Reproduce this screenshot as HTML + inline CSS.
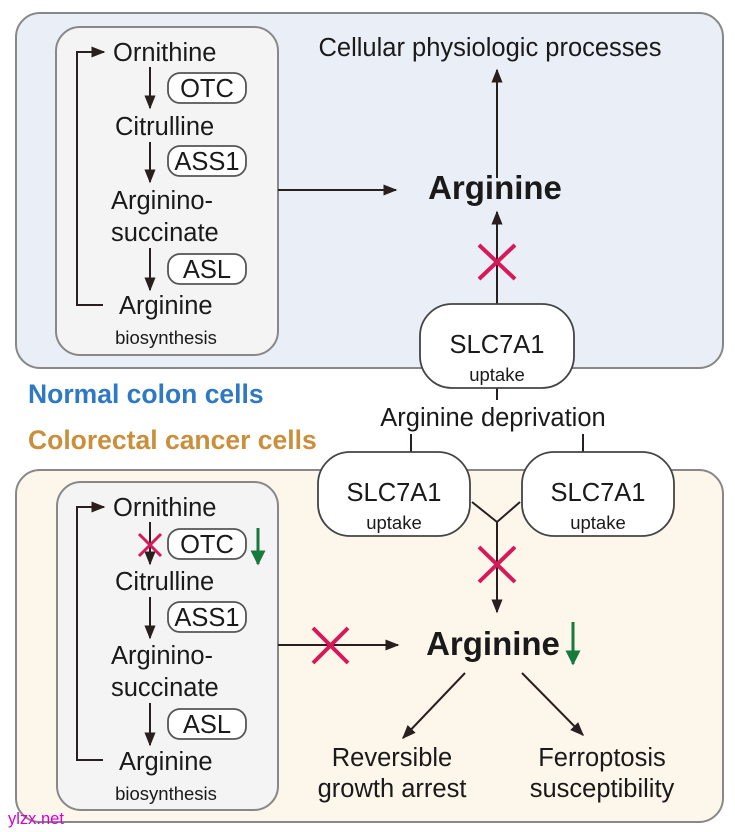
<!DOCTYPE html>
<html><head><meta charset="utf-8"><style>body{margin:0;background:#fff}svg{display:block}text{font-family:"Liberation Sans",Arial,sans-serif;fill:#1a1a1a}</style></head><body>
<svg width="735" height="832" viewBox="0 0 735 832" xmlns="http://www.w3.org/2000/svg">
<defs><marker id="a" viewBox="0 0 10 10" refX="9" refY="5" markerWidth="7" markerHeight="7" orient="auto-start-reverse"><path d="M0,1 L10,5 L0,9 z" fill="#2a1f1f"/></marker>
<marker id="g" viewBox="0 0 10 10" refX="9" refY="5" markerWidth="5" markerHeight="6" orient="auto"><path d="M0,0 L10,5 L0,10 z" fill="#157a3c"/></marker></defs>
<g stroke="#888" stroke-width="2">
<rect x="16" y="13" width="707" height="355" rx="24" fill="#eaeef6"/>
<rect x="16" y="470" width="707" height="352" rx="24" fill="#fdf6ea"/>
<rect x="56" y="27" width="222" height="328" rx="24" fill="#f5f4f5"/>
<rect x="57" y="482" width="221" height="328" rx="24" fill="#f5f4f5"/>
</g>
<g stroke="#2a1f1f" stroke-width="2" fill="none">
<polyline points="103,305 77,305 77,52 104,52" marker-end="url(#a)"/>
<line x1="150" y1="67" x2="150" y2="108" marker-end="url(#a)"/>
<line x1="150" y1="142" x2="150" y2="182" marker-end="url(#a)"/>
<line x1="150" y1="248" x2="150" y2="290" marker-end="url(#a)"/>
<line x1="278" y1="190" x2="396" y2="190" marker-end="url(#a)"/>
<line x1="497" y1="178" x2="497" y2="70" marker-end="url(#a)"/>
<line x1="497" y1="304" x2="497" y2="212" marker-end="url(#a)"/>
<line x1="497" y1="388" x2="497" y2="400"/>
<line x1="411" y1="434" x2="411" y2="452"/><line x1="583" y1="434" x2="583" y2="452"/>
<polyline points="472,502 497,522 520,502"/>
<line x1="497" y1="522" x2="497" y2="612" marker-end="url(#a)"/>
<polyline points="103,760 77,760 77,507 104,507" marker-end="url(#a)"/>
<line x1="150" y1="522" x2="150" y2="564" marker-end="url(#a)"/>
<line x1="150" y1="597" x2="150" y2="638" marker-end="url(#a)"/>
<line x1="150" y1="703" x2="150" y2="745" marker-end="url(#a)"/>
<line x1="278" y1="645" x2="398" y2="645" marker-end="url(#a)"/>
<line x1="465" y1="673" x2="403" y2="738" marker-end="url(#a)"/>
<line x1="522" y1="673" x2="583" y2="735" marker-end="url(#a)"/>
</g>
<g stroke="#555" stroke-width="1.8" fill="#fff">
<rect x="168" y="73" width="78" height="30" rx="12"/><rect x="168" y="146" width="78" height="30" rx="12"/><rect x="168" y="254" width="78" height="30" rx="12"/>
<rect x="168" y="529" width="78" height="30" rx="12"/><rect x="168" y="602" width="78" height="30" rx="12"/><rect x="168" y="709" width="78" height="30" rx="12"/>
<rect x="420" y="304" width="154" height="84" rx="32" stroke="#444"/>
<rect x="318" y="452" width="152" height="84" rx="32" stroke="#444"/>
<rect x="522" y="452" width="152" height="84" rx="32" stroke="#444"/>
</g>
<g stroke="#d6195a" stroke-width="4">
<line x1="479" y1="245" x2="515" y2="279"/><line x1="515" y1="245" x2="479" y2="279"/>
<line x1="479" y1="547" x2="515" y2="582"/><line x1="515" y1="547" x2="479" y2="582"/>
<line x1="313" y1="628" x2="348" y2="663"/><line x1="348" y1="628" x2="313" y2="663"/>
<line x1="139" y1="534" x2="161" y2="556" stroke-width="3"/><line x1="161" y1="534" x2="139" y2="556" stroke-width="3"/>
</g>
<g stroke="#157a3c" stroke-width="3">
<line x1="258" y1="528" x2="258" y2="564" marker-end="url(#g)"/>
<line x1="573" y1="622" x2="573" y2="664" marker-end="url(#g)"/>
</g>
<g font-size="25.5">
<text x="113" y="61">Ornithine</text><text x="115" y="135">Citrulline</text><text x="111" y="209">Arginino-</text><text x="111" y="241">succinate</text><text x="119" y="314">Arginine</text>
<text x="113" y="516">Ornithine</text><text x="115" y="590">Citrulline</text><text x="111" y="664">Arginino-</text><text x="111" y="696">succinate</text><text x="119" y="770">Arginine</text>
<g text-anchor="middle">
<text x="207" y="97">OTC</text><text x="207" y="170">ASS1</text><text x="207" y="278">ASL</text>
<text x="207" y="553">OTC</text><text x="207" y="626">ASS1</text><text x="207" y="733">ASL</text>
<text x="490" y="56">Cellular physiologic processes</text>
<text x="497" y="353">SLC7A1</text><text x="394" y="501">SLC7A1</text><text x="598" y="501">SLC7A1</text>
<text x="493" y="426">Arginine deprivation</text>
<text x="392" y="766">Reversible</text><text x="392" y="797">growth arrest</text>
<text x="602" y="766">Ferroptosis</text><text x="602" y="797">susceptibility</text>
</g></g>
<g font-size="18.5" text-anchor="middle">
<text x="166" y="344">biosynthesis</text><text x="166" y="800">biosynthesis</text>
<text x="497" y="381">uptake</text><text x="394" y="529">uptake</text><text x="598" y="529">uptake</text>
</g>
<g font-size="33" font-weight="bold" text-anchor="middle"><text x="495" y="199">Arginine</text><text x="493" y="655">Arginine</text></g>
<text x="28" y="403" font-size="26.5" font-weight="bold" style="fill:#2f78c4">Normal colon cells</text>
<text x="28" y="449" font-size="26.5" font-weight="bold" style="fill:#c98f3c">Colorectal cancer cells</text>
<text x="8" y="824" font-size="16.5" style="fill:#d400d4">ylzx.net</text>
</svg></body></html>
